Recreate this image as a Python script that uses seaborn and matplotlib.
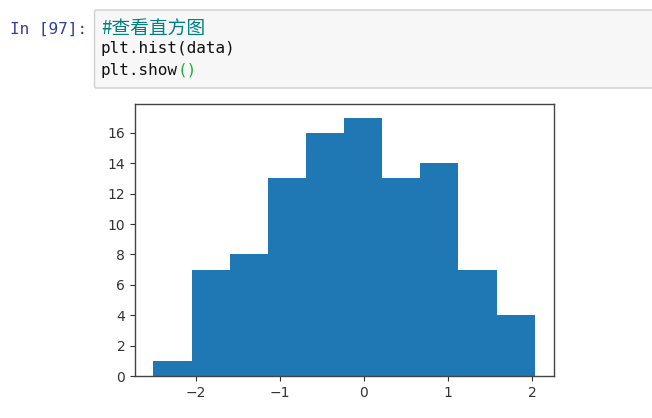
"""Notebook cell screenshot: code input above a default matplotlib histogram."""

import matplotlib

matplotlib.use("Agg")
import matplotlib.pyplot as plt
import numpy as np
import seaborn as sns
from matplotlib.patches import FancyBboxPatch

FIG_W, FIG_H = 652, 418

# histogram
bin_edges = [-2.506, -2.045, -1.594, -1.141, -0.688, -0.235, 0.215, 0.668, 1.121, 1.574, 2.027]
bin_counts = [1, 7, 8, 13, 16, 17, 13, 14, 7, 4]
x_ticks = [-2, -1, 0, 1, 2]
y_ticks = [0, 2, 4, 6, 8, 10, 12, 14, 16]

prompt_text = "In [97]:"
comment_text = "#查看直方图"
code_line_1 = "plt.hist(data)"
code_line_2 = "plt.show"
code_parens = "()"

BAR_COLOR = "#1f77b4"
MONO = "DejaVu Sans Mono"


def fx(px):
    return px / FIG_W


def fy(px):
    return 1 - px / FIG_H


sns.set_theme(style="ticks")
plt.rcParams["font.family"] = ["DejaVu Sans"]

fig = plt.figure(figsize=(FIG_W / 100, FIG_H / 100), dpi=100, facecolor="white")

# code cell box, drawn in pixels so the corner radius stays round
fig.add_artist(FancyBboxPatch(
    (94.5, FIG_H - 88), 570, 78, boxstyle="round,pad=0,rounding_size=2",
    transform=None, facecolor="#f7f7f7", edgecolor="#cfcfcf", linewidth=1,
))

fig.text(fx(10), fy(29), prompt_text, family=MONO, fontsize=11.5, color="#303f9f", va="center")
fig.text(fx(101), fy(28), comment_text, family=["Noto Sans CJK SC", "DejaVu Sans"],
         fontsize=13.5, color="#008080", va="center", style="italic")
fig.text(fx(101), fy(49), code_line_1, family=MONO, fontsize=11.5, color="#111111", va="center")
fig.text(fx(101), fy(70), code_line_2, family=MONO, fontsize=11.5, color="#111111", va="center")
fig.text(fx(177.5), fy(70), code_parens, family=MONO, fontsize=11.5, color="#1fae3a", va="center")

# histogram axes
ax = fig.add_axes([fx(135), fy(376), 419 / FIG_W, 272 / FIG_H], facecolor="white")
centers = (np.array(bin_edges[:-1]) + np.array(bin_edges[1:])) / 2
sns.histplot(
    x=centers, weights=bin_counts, bins=bin_edges, ax=ax,
    color=BAR_COLOR, alpha=1, linewidth=0, edgecolor=BAR_COLOR,
)
ax.set_xlim(-2.72, 2.257)
ax.set_ylim(0, 17.9)
ax.set_xticks(x_ticks)
ax.set_yticks(y_ticks)
ax.set_xlabel("")
ax.set_ylabel("")
ax.tick_params(labelsize=10, length=3.5, width=0.8, colors="#333333")
for spine in ax.spines.values():
    spine.set_visible(True)
    spine.set_linewidth(1)
    spine.set_color("#444444")

fig.savefig("out.png", dpi=100)
plt.close(fig)
